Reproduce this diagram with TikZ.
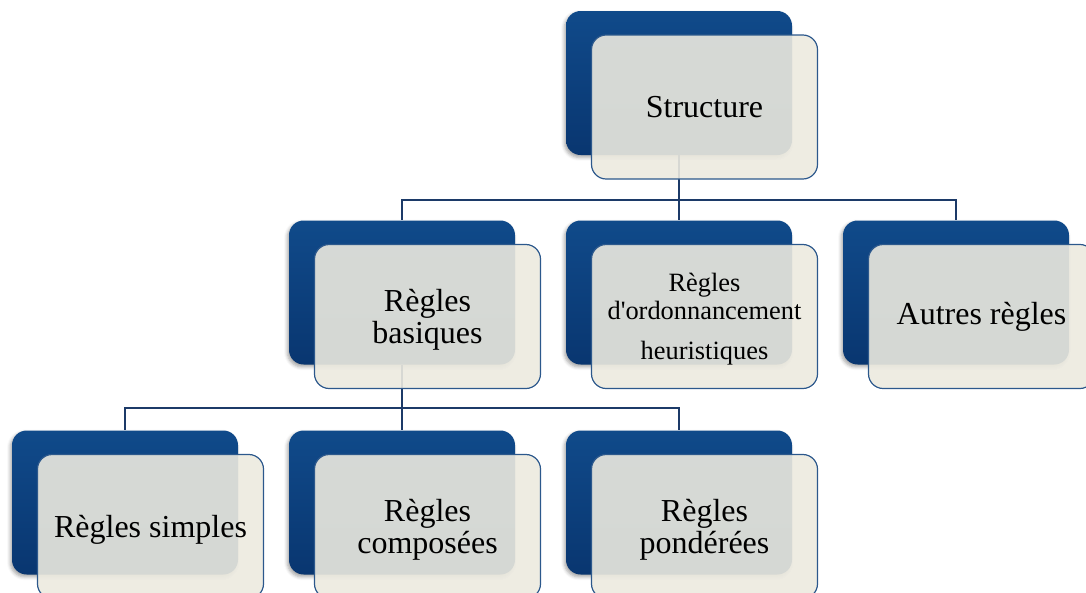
\documentclass[tikz,border=0pt]{standalone}
\usepackage{fontspec}
\newfontfamily\boxfont{Liberation Serif}
\usetikzlibrary{shadows.blur}
\definecolor{navytop}{RGB}{16,74,138}
\definecolor{navybot}{RGB}{9,54,112}
\definecolor{cream}{RGB}{236,234,223}
\definecolor{frameline}{RGB}{44,88,140}
\definecolor{linkline}{RGB}{28,58,104}
\tikzset{
  backbox/.style={rectangle, rounded corners=11pt, minimum width=169.5pt,
    minimum height=108pt, inner sep=0pt, top color=navytop, bottom color=navybot,
    draw=none, blur shadow={shadow xshift=-1.2pt, shadow yshift=-1.8pt,
    shadow blur radius=2.5pt, shadow opacity=35}},
  frontbox/.style={rectangle, rounded corners=11pt, minimum width=169.5pt,
    minimum height=108pt, inner sep=2pt, draw=frameline, line width=0.9pt,
    fill=cream, fill opacity=0.9, text opacity=1, align=center, text=black,
    font=\boxfont\fontsize{24}{24}\selectfont},
  link/.style={draw=linkline, line width=1pt}
}
\begin{document}
\begin{tikzpicture}[x=0.75pt, y=-0.75pt]
\clip (0,0) rectangle (1086,593);
% back boxes
\node[backbox] (sb) at (679,83) {};
\node[backbox] (bb) at (402,292.5) {};
\node[backbox] (ob) at (679,292.5) {};
\node[backbox] (ab) at (956,292.5) {};
\node[backbox] (pb) at (125,502.5) {};
\node[backbox] (cb) at (402,502.5) {};
\node[backbox] (wb) at (679,502.5) {};
% connectors
\coordinate (bus1) at (679,200);
\coordinate (bus2) at (402,408);
\draw[link] (sb.south) |- (bb.north |- bus1) -- (bb.north);
\draw[link] (sb.south) |- (ab.north |- bus1) -- (ab.north);
\draw[link] (sb.south) -- (ob.north);
\draw[link] (bb.south) |- (pb.north |- bus2) -- (pb.north);
\draw[link] (bb.south) |- (wb.north |- bus2) -- (wb.north);
\draw[link] (bb.south) -- (cb.north);
% front boxes
\node[frontbox] (sf) at (704.5,107) {Structure};
\node[frontbox, text depth=-1.5pt] (bf) at (427.5,316.5) {Règles\\basiques};
\node[frontbox, text depth=-0.5pt, font=\boxfont\fontsize{19.8}{20.5}\selectfont] (of) at (704.5,316.5)
  {Règles\\d'ordonnancement\\[10pt]heuristiques};
\node[frontbox] (af) at (981.5,316.5) {Autres règles};
\node[frontbox, text depth=-1.5pt] (pf) at (150.5,526.5) {Règles simples};
\node[frontbox, text depth=-1.5pt] (cf) at (427.5,526.5) {Règles\\composées};
\node[frontbox, text depth=-1.5pt] (wf) at (704.5,526.5) {Règles\\pondérées};
\end{tikzpicture}
\end{document}
